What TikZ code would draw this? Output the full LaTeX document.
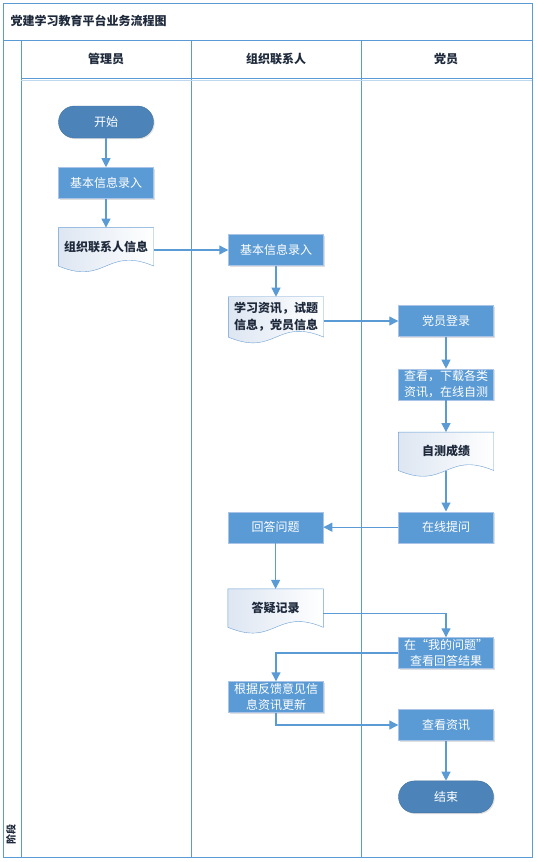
\documentclass[tikz,border=0pt]{standalone}
\usepackage{fontspec}
\setmainfont{Noto Sans CJK SC}
\usetikzlibrary{arrows.meta,positioning,calc,shadows,backgrounds}
\definecolor{laneline}{HTML}{5B9BD5}
\definecolor{boxfill}{HTML}{5B9BD5}
\definecolor{boxedge}{HTML}{A9C4E6}
\definecolor{termfill}{HTML}{4C84BA}
\definecolor{termedge}{HTML}{41719C}
\definecolor{docshade}{HTML}{DDE6F2}
\definecolor{docedge}{HTML}{6A9FD3}
\definecolor{darktext}{HTML}{1E2A3C}

% document shape with wavy bottom, drawn behind a node
\newcommand{\docshape}[1]{%
  \path[draw=docedge, left color=docshade, right color=white]
    (#1.north west) -- (#1.north east) -- (#1.south east)
    .. controls ($(#1.south)+(0,-20)$) and ($(#1.south)+(0,20)$) .. (#1.south west) -- cycle;}

\begin{document}
\begin{tikzpicture}[x=1pt, y=-1pt,
  stepbox/.style={draw=boxedge, fill=boxfill, minimum width=95pt, minimum height=31pt,
                  inner sep=1.5pt, align=center, text=white, font=\fontsize{12}{16}\selectfont,
                  drop shadow={shadow xshift=1.2pt, shadow yshift=-1.2pt, opacity=0.25, fill=black!50}},
  term/.style={stepbox, fill=termfill, draw=termedge, rounded corners=16pt, minimum height=32pt},
  docnode/.style={minimum width=95pt, minimum height=38pt, inner sep=1.5pt, align=center,
                  text=darktext, font=\fontsize{12}{17}\selectfont\bfseries},
  lanehead/.style={text=darktext, font=\fontsize{12}{14}\selectfont\bfseries},
  frame/.style={draw=laneline, line width=0.9pt},
  arr/.style={-{Triangle[length=9pt, width=9pt]}, draw=laneline, line width=1.1pt}
]
  \useasboundingbox (0,0) rectangle (537,862);

  % pool and lanes
  \draw[frame] (3,3) rectangle (532,857);
  \draw[frame] (3,40) -- (532,40);
  \draw[frame] (21,40) -- (21,857);
  \draw[frame] (191,40) -- (191,857);
  \draw[frame] (361,40) -- (361,857);
  \draw[frame] (21,78) -- (532,78);
  \draw[laneline!40, line width=0.8pt] (21,80.5) -- (532,80.5);

  \node[lanehead, anchor=west] (title) at (7,21) {党建学习教育平台业务流程图};
  \node[lanehead] (hadmin)   at (106,59) {管理员};
  \node[lanehead] (hcontact) at (276,59) {组织联系人};
  \node[lanehead] (hmember)  at (446,59) {党员};
  \node[text=darktext, font=\fontsize{10}{12}\selectfont\bfseries, rotate=90] (phase) at (11,834) {阶段};

  % admin lane
  \node[term] (start) at (106,122) {开始};
  \node[stepbox, below=29pt of start] (entry) {基本信息录入};
  \node[docnode, below=29pt of entry] (contactdoc) {组织联系人信息};

  % contact lane
  \node[stepbox] (orgentry) at (276,250) {基本信息录入};
  \node[docnode, minimum height=40pt, below=31pt of orgentry] (infodoc) {学习资讯，试题\\信息，党员信息};

  % member lane
  \node[stepbox] (login) at (446,321) {党员登录};
  \node[stepbox, below=32pt of login] (browse) {查看，下载各类\\资讯，在线自测};
  \node[docnode, below=32pt of browse] (testdoc) {自测成绩};
  \node[stepbox, below=41pt of testdoc] (ask) {在线提问};
  \node[stepbox, left=75pt of ask] (answer) {回答问题};
  \node[docnode, below=46pt of answer] (qadoc) {答疑记录};
  \node[stepbox] (myq) at (446,653) {在“我的问题”\\查看回答结果};
  \node[stepbox] (update) at (276,697) {根据反馈意见信\\息资讯更新};
  \node[stepbox] (news) at (446,725) {查看资讯};
  \node[term, below=40pt of news] (stop) {结束};

  \begin{scope}[on background layer]
    \foreach \d in {contactdoc,infodoc,testdoc,qadoc} {\docshape{\d}}
  \end{scope}

  \draw[arr] (start) -- (entry);
  \draw[arr] (entry) -- (contactdoc);
  \draw[arr] (contactdoc.east |- orgentry.west) -- (orgentry.west);
  \draw[arr] (orgentry) -- (infodoc);
  \draw[arr] (infodoc.east |- login.west) -- (login.west);
  \draw[arr] (login) -- (browse);
  \draw[arr] (browse) -- (testdoc);
  \draw[arr] (testdoc.south) -- (ask);
  \draw[arr] (ask) -- (answer);
  \draw[arr] (answer) -- (qadoc);
  \draw[arr] ($(qadoc.east)+(0,5)$) -| (myq.north);
  \draw[arr] (myq.west) -| (update.north);
  \draw[arr] (update.south) |- (news.west);
  \draw[arr] (news) -- (stop);
\end{tikzpicture}
\end{document}
